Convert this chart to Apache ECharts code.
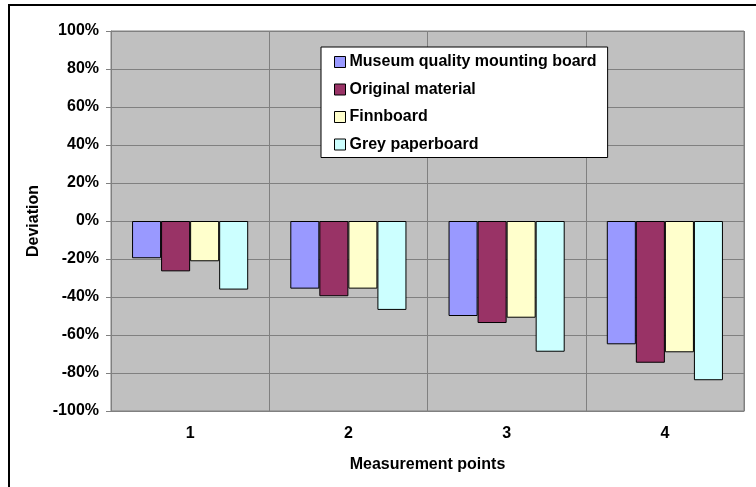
<!DOCTYPE html>
<html>
<head>
<meta charset="utf-8">
<script src="https://cdn.jsdelivr.net/npm/echarts@6/dist/echarts.min.js"></script>
<style>
  html, body {margin: 0; padding: 0; background: #fff;}
  #chart {width: 756px; height: 487px;}
</style>
</head>
<body>
<div id="chart"></div>
<script>
  // measurement points on the x axis
  var points = ['1', '2', '3', '4']
  // deviation in percent per material
  var museumBoard = [-19.6, -35.6, -50.0, -64.9]
  var originalMaterial = [-26.5, -39.6, -53.7, -74.6]
  var finnboard = [-21.2, -35.6, -50.9, -69.1]
  var greyPaperboard = [-36.1, -46.8, -68.8, -83.8]
  var seriesNames = ['Museum quality mounting board', 'Original material', 'Finnboard', 'Grey paperboard']
  var seriesColors = ['#9999ff', '#993366', '#ffffcc', '#ccffff']

  var font = 'Liberation Sans, Arial, sans-serif'
  var myChart = echarts.init(document.getElementById('chart'))

  function bar (i, data) {
    return {
      name: seriesNames[i],
      type: 'bar',
      barGap: 0,
      barCategoryGap: '26.6%',
      itemStyle: {color: seriesColors[i], borderColor: '#000', borderWidth: 1},
      data: data
    }
  }

  myChart.setOption({
    backgroundColor: '#fff',
    animation: false,
    textStyle: {fontFamily: font},
    graphic: [
      {type: 'line', shape: {x1: 8, y1: 5, x2: 756, y2: 5}, style: {stroke: '#000', lineWidth: 2}},
      {type: 'line', shape: {x1: 9, y1: 5, x2: 9, y2: 487}, style: {stroke: '#000', lineWidth: 2}}
    ],
    grid: {
      left: 111,
      right: 12,
      top: 31,
      bottom: 76,
      show: true,
      backgroundColor: '#c0c0c0',
      borderColor: '#808080',
      borderWidth: 1
    },
    legend: {
      orient: 'vertical',
      left: 321,
      top: 47,
      padding: [7, 11, 5, 13],
      itemGap: 11.5,
      itemWidth: 11,
      itemHeight: 11,
      backgroundColor: '#fff',
      borderColor: '#000',
      borderWidth: 1,
      icon: 'rect',
      itemStyle: {borderColor: '#000', borderWidth: 1},
      textStyle: {fontFamily: font, fontWeight: 'bold', fontSize: 16, color: '#000', padding: [0, 0, 0, -1]},
      data: seriesNames
    },
    xAxis: {
      type: 'category',
      data: points,
      name: 'Measurement points',
      nameLocation: 'middle',
      nameGap: 46,
      nameTextStyle: {fontFamily: font, fontWeight: 'bold', fontSize: 16, color: '#000'},
      axisLine: {onZero: false, lineStyle: {color: '#808080'}},
      axisTick: {show: false},
      axisLabel: {margin: 15, fontFamily: font, fontWeight: 'bold', fontSize: 16, color: '#000'},
      splitLine: {show: true, lineStyle: {color: '#808080', width: 1}}
    },
    yAxis: {
      type: 'value',
      min: -100,
      max: 100,
      interval: 20,
      name: 'Deviation',
      nameLocation: 'middle',
      nameGap: 67,
      nameTextStyle: {fontFamily: font, fontWeight: 'bold', fontSize: 16, color: '#000'},
      axisLine: {show: true, lineStyle: {color: '#808080'}},
      axisTick: {show: true, length: 5, lineStyle: {color: '#808080'}},
      axisLabel: {margin: 12, formatter: '{value}%', fontFamily: font, fontWeight: 'bold', fontSize: 16, color: '#000'},
      splitLine: {show: true, lineStyle: {color: '#808080', width: 1}}
    },
    series: [
      bar(0, museumBoard),
      bar(1, originalMaterial),
      bar(2, finnboard),
      bar(3, greyPaperboard)
    ]
  })
</script>
</body>
</html>
